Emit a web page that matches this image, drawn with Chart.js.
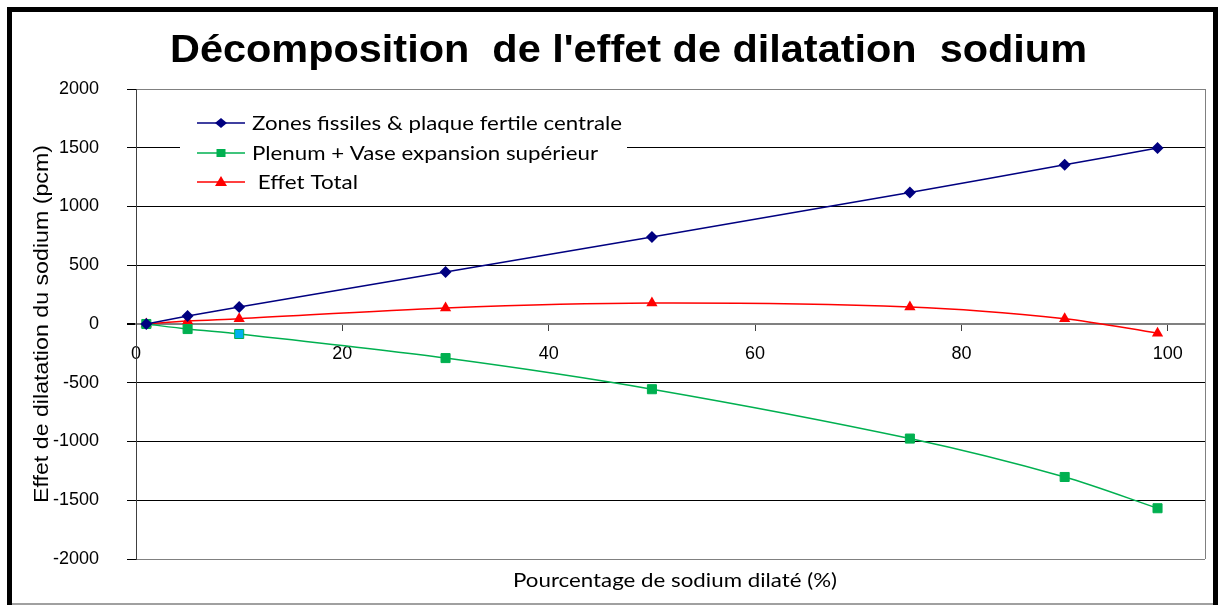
<!DOCTYPE html>
<html lang="fr">
<head>
<meta charset="UTF-8">
<title>Décomposition de l'effet de dilatation sodium</title>
<script src="https://cdn.jsdelivr.net/npm/chart.js"></script>
<style>
    body { margin: 0; background: #fff; }
    canvas { display: block; }
</style>
</head>
<body>
<canvas id="chart" width="1218" height="605"></canvas>
<script>
// pourcentage de sodium dilaté (%)
const dilatedPct = [1, 5, 10, 30, 50, 75, 90, 99];
// effets en pcm
const zonesFissiles = [0, 68, 145, 443, 740, 1120, 1355, 1498];
const plenumVase = [0, -43, -85, -290, -555, -975, -1302, -1568];
const effetTotal = [0, 25, 45, 136, 178, 145, 45, -78];

const seriesLabels = ['Zones fissiles & plaque fertile centrale', 'Plenum + Vase expansion supérieur', ' Effet Total'];
const xTicks = [0, 20, 40, 60, 80, 100];
const chartTitle = "Décomposition  de l'effet de dilatation  sodium";
const xTitle = 'Pourcentage de sodium dilaté (%)';
const yTitle = 'Effet de dilatation du sodium (pcm)';

const toPoints = ys => ys.map((y, i) => ({ x: dilatedPct[i], y: y }));

const ARIAL = '"Liberation Sans", Arial, sans-serif';
const CALIBRI = 'Lato, "Noto Sans", sans-serif';

// the original is a stretched Excel picture, so texts are fitted to their measured width
function fitText(ctx, text, x, y, width, align) {
    const w = ctx.measureText(text).width;
    ctx.save();
    ctx.translate(x, y);
    ctx.scale(width / w, 1);
    ctx.textAlign = align;
    ctx.fillText(text, 0, 0);
    ctx.restore();
}

function marker(ctx, style, x, y, fill, stroke) {
    ctx.save();
    ctx.fillStyle = fill;
    ctx.strokeStyle = stroke;
    ctx.beginPath();
    if (style === 'rectRot') {
        ctx.moveTo(x, y - 5); ctx.lineTo(x + 6, y); ctx.lineTo(x, y + 5); ctx.lineTo(x - 6, y);
    } else if (style === 'rect') {
        ctx.rect(x - 4.5, y - 4, 9, 8);
    } else {
        ctx.moveTo(x, y - 6); ctx.lineTo(x + 6, y + 4); ctx.lineTo(x - 6, y + 4);
    }
    ctx.closePath();
    ctx.fill();
    ctx.restore();
}

const decorations = {
    id: 'decorations',
    afterDraw(chart) {
        const ctx = chart.ctx;
        const area = chart.chartArea;
        ctx.save();

        // right border of the plot area
        ctx.strokeStyle = '#808080';
        ctx.lineWidth = 1;
        ctx.beginPath();
        ctx.moveTo(area.right + 0.5, area.top);
        ctx.lineTo(area.right + 0.5, area.bottom);
        ctx.stroke();

        // title
        ctx.fillStyle = '#000';
        ctx.font = 'bold 38px ' + ARIAL;
        ctx.textBaseline = 'alphabetic';
        fitText(ctx, chartTitle, 628.5, 62, 917, 'center');

        // axis titles
        ctx.font = '20px ' + ARIAL;
        ctx.textBaseline = 'middle';
        ctx.save();
        ctx.translate(42, 324);
        ctx.rotate(-Math.PI / 2);
        fitText(ctx, yTitle, 0, 0, 358, 'center');
        ctx.restore();

        ctx.font = '19px ' + CALIBRI;
        fitText(ctx, xTitle, 675, 581, 324, 'center');

        // legend
        ctx.fillStyle = '#fff';
        ctx.fillRect(180, 106, 447, 92);
        const rows = [123, 153, 182];
        const widths = [370, 346, 106];
        chart.data.datasets.forEach((ds, i) => {
            const y = rows[i];
            ctx.strokeStyle = ds.borderColor;
            ctx.lineWidth = 1.5;
            ctx.beginPath();
            ctx.moveTo(197, y);
            ctx.lineTo(245, y);
            ctx.stroke();
            marker(ctx, ds.pointStyle, 221, y, ds.backgroundColor, ds.borderColor);
            ctx.fillStyle = '#000';
            ctx.font = '19px ' + CALIBRI;
            ctx.textBaseline = 'middle';
            fitText(ctx, ds.label, 252, y + 1, widths[i], 'left');
        });

        // outer frame
        ctx.strokeStyle = '#000';
        ctx.lineWidth = 5;
        ctx.strokeRect(9.5, 9.5, 1206, 800);
        ctx.fillStyle = '#a0a0a0';
        ctx.fillRect(12, 603, 1201, 2);
        ctx.restore();
    }
};

const greenFill = dilatedPct.map((_, i) => i === 2 ? '#00b0f0' : '#00b050');

new Chart(document.getElementById('chart'), {
    type: 'line',
    data: {
        datasets: [
            {
                label: seriesLabels[0],
                data: toPoints(zonesFissiles),
                borderColor: '#000080',
                backgroundColor: '#000080',
                borderWidth: 1.5,
                pointStyle: 'rectRot',
                pointRadius: 6,
                pointBorderWidth: 0,
                tension: 0.3
            },
            {
                label: seriesLabels[1],
                data: toPoints(plenumVase),
                borderColor: '#00b050',
                backgroundColor: '#00b050',
                pointBackgroundColor: greenFill,
                pointBorderColor: '#00b050',
                borderWidth: 1.5,
                pointStyle: 'rect',
                pointRadius: 6.4,
                pointBorderWidth: 1,
                tension: 0.3
            },
            {
                label: seriesLabels[2],
                data: toPoints(effetTotal),
                borderColor: '#ff0000',
                backgroundColor: '#ff0000',
                borderWidth: 1.5,
                pointStyle: 'triangle',
                pointRadius: 6.5,
                pointBorderWidth: 0,
                tension: 0.3
            }
        ]
    },
    options: {
        responsive: false,
        animation: false,
        devicePixelRatio: 1,
        layout: { padding: { top: 89, right: 13, bottom: 46, left: 0 } },
        plugins: {
            legend: { display: false },
            title: { display: false },
            tooltip: { enabled: false }
        },
        scales: {
            x: {
                type: 'linear',
                min: 0,
                max: 103.6,
                position: { y: 0 },
                afterBuildTicks: s => { s.ticks = xTicks.map(v => ({ value: v })); },
                grid: { drawOnChartArea: false, drawTicks: true, tickLength: 6, color: '#404040', tickColor: '#404040' },
                border: { color: '#808080', width: 2 },
                ticks: {
                    font: { family: ARIAL, size: 18 },
                    color: '#000',
                    padding: 13,
                    maxRotation: 0,
                    callback: v => String(v)
                }
            },
            y: {
                min: -2000,
                max: 2000,
                afterFit: s => { s.width = 136; },
                grid: {
                    color: c => (c.tick.value === 0 || Math.abs(c.tick.value) === 2000) ? '#808080' : '#000',
                    lineWidth: c => c.tick.value === 0 ? 2 : 1,
                    tickLength: 9,
                    tickColor: '#000'
                },
                border: { color: '#404040', width: 1 },
                ticks: {
                    stepSize: 500,
                    padding: 28,
                    font: { family: ARIAL, size: 18 },
                    color: '#000',
                    callback: v => String(v)
                }
            }
        }
    },
    plugins: [decorations]
});
</script>
</body>
</html>
